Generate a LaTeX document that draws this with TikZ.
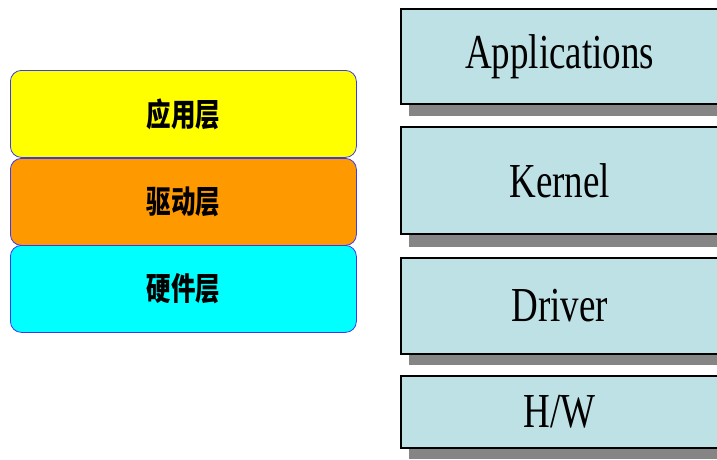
\documentclass[tikz,border=0pt]{standalone}
\usepackage{fontspec}
\usepackage{graphicx}
\setmainfont{Liberation Serif}
\newfontfamily\cjk{Noto Sans CJK SC}
\definecolor{lblue}{HTML}{BEE1E5}
\definecolor{shadowgray}{HTML}{858585}
\definecolor{layerblue}{HTML}{3A3AF0}
\definecolor{ylw}{HTML}{FFFF00}
\definecolor{org}{HTML}{FF9900}
\definecolor{cyn}{HTML}{00FFFF}
\begin{document}
\begin{tikzpicture}[x=1pt,y=-1pt,
  layer/.style={draw=layerblue, line width=0.8pt, rounded corners=11pt, anchor=north west,
    minimum width=346pt, minimum height=87pt, inner sep=0pt,
    font=\cjk\bfseries\fontsize{24.5}{28}\selectfont},
  osbox/.style={draw=black, line width=1.6pt, fill=lblue, anchor=north west,
    minimum width=318pt, inner sep=0pt,
    font=\fontsize{37}{42}\selectfont},
  shade/.style={fill=shadowgray, draw=none}
]
\useasboundingbox (0,0) rectangle (717,459);
\fill[white] (0,0) rectangle (717,459);
% left stack
\node[layer, fill=ylw] (app) at (10,70) {\scalebox{1}[1.3]{应用层}};
\node[layer, fill=org] (drv) at (10,158) {\scalebox{1}[1.3]{驱动层}};
\node[layer, fill=cyn] (hw) at (10,245) {\scalebox{1}[1.3]{硬件层}};
% right stack shadows
\fill[shade] (409,103) rectangle (726,116);
\fill[shade] (409,233) rectangle (726,247);
\fill[shade] (409,353) rectangle (726,365);
\fill[shade] (409,447) rectangle (726,459);
% right stack boxes
\node[osbox, minimum height=95pt] (apps) at (400,8) {\scalebox{1}[1.32]{Applications}};
\node[osbox, minimum height=107pt] (kern) at (400,126) {\scalebox{1}[1.32]{Kernel}};
\node[osbox, minimum height=96pt] (drvr) at (400,257) {\scalebox{1}[1.32]{Driver}};
\node[osbox, minimum height=72pt] (hwr) at (400,375) {\scalebox{1}[1.32]{H/W}};
\end{tikzpicture}
\end{document}
